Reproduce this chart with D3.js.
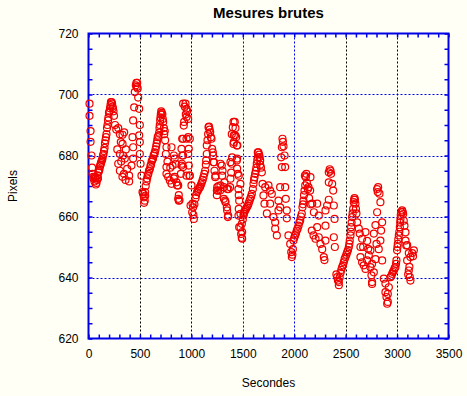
<!DOCTYPE html>
<html>
<head>
<meta charset="utf-8">
<script src="https://cdn.jsdelivr.net/npm/d3@7/dist/d3.min.js"></script>
<style>
  body { margin: 0; background: #fffff6; }
</style>
</head>
<body>
<div id="chart"></div>
<script>
// axis labels
var xTicks = [0, 500, 1000, 1500, 2000, 2500, 3000, 3500];
var yTicks = [620, 640, 660, 680, 700, 720];
// vertical grid lines drawn in black (the others are blue)
var blackGridX = [500, 1000, 2500, 3000];

// raw measures [seconds, pixels]
var cycle0 = [[10,697],[10,693],[20,688],[20,684.5],[29,680],[35,676],[39,674],[45,673],[49,672.5],[58,671.5],[62,673],[68,672.5],[72,670.5],[78,671],[82,672],[88,673.5],[92,672.5],[97,674.5]];
var cycle1 = [[102,675],[107,675.5],[112,676.5],[117,677],[121,677.5],[126,678],[131,678.5],[136,679],[141,680],[146,680.5],[151,681.5],[156,682.5],[160,684],[165,685],[170,686],[175,687],[180,689],[185,690],[190,691.5],[194,692.5],[199,694],[204,694.5],[209,695.5],[214,696.5],[218,697.5],[224,697.5],[229,697],[233,696],[238,695.5],[243,694.5],[248,693],
  [258,690],[270,688.5],[289,689],[305,687],[331,686.8],[347,687.6],[314,684.4],[331,683.8],[305,680.5],[337,680],[289,677.3],[305,675],[353,679],[363,682],[376,675.6],[395,673.4],[395,671.5],[418,676.7],[318,678],[280,682],[345,674],[360,672],[330,673]];
var cycle2 = [[428,686],[434,679],[434,682.7],[434,691.5],[444,695.8],[450,700.8],[460,703],[466,703.8],[473,703.8],[470,702.5],[478,702],[483,699],[493,695.3],[499,690],[493,686.6],[499,684.4],[499,680.5],[506,677.3],[515,673.4],[525,668],[531,667.4],[538,666.3],[547,665.2],[551,666.8],[540,664.5]];
var cycle3 = [[550,668],[556,670],[564,671.5],[570,672.5],[576,673.5],[582,674],[588,675],[596,675.5],[602,676.5],[608,677],[614,678],[620,678.5],[627,679],[633,680],[640,680.5],[645,681],[652,682],[658,683],[663,684],[668,685],[673,686],[680,686.5],[687,687.5],[690,689],[693,690],[697,691.5],[700,692.5],[703,693.5],[707,694.5],[712,694],[718,693.5],[722,692],
  [726,691],[733,689],[741,688],[736,687],[745,685],[758,682.7],[752,680.5],[807,682.7],[830,680],[838,679],[849,677.3],[817,676.7],[758,676.2],[758,674],[774,673],[791,671.8],[807,670.7],[830,672.5],[856,671.2],[872,670.2],[872,665.8],[878,665.2],[838,673],[862,670.2],[878,667],[885,665.3],[768,678],[795,676]];
var cycle4 = [[898,674],[904,676.7],[904,682.2],[911,680],[911,685.5],[920,680],[920,685.5],[920,697],[926,689.8],[930,691],[936,696],[943,697],[946,693.5],[953,695.3],[953,692.6],[959,694.5],[969,692],[969,686],[975,682.2],[975,676.7],[982,673.4],[985,685.5],[953,685.5],[953,673.4],[985,673.4],[969,680.5],[992,663.6],[1001,670.2],[1008,661.4],[1011,664.2],[1017,663],[1024,659.2],[1020,660.5],[920,676.2],[908,677.3]];
var cycle5 = [[1030,664],[1040,666],[1046,667],[1056,668],[1064,668.5],[1072,669],[1080,669.5],[1086,669.8],[1094,670.5],[1102,671.2],[1110,672],[1118,672.9],[1126,674],[1134,675],[1141,677],[1144,678.4],[1150,680.5],[1150,683.3],[1157,685],[1163,687],[1167,689.3],[1172,689.5],[1178,688.5],[1183,687.6],[1190,686],[1196,685.5],[1202,682.2],[1209,681],[1212,680],[1215,677.8],[1220,677.8],[1225,675],[1232,672.9],[1235,673.4],[1248,668.5],[1251,669.6],[1248,667],[1261,668.5],[1264,670],[1280,668.5]];
var cycle6 = [[1283,677.3],[1283,670.2],[1296,676.7],[1299,673.4],[1303,675],[1316,669.6],[1316,665.8],[1322,671.2],[1328,665.2],[1332,664.7],[1345,663],[1348,669],[1348,662],[1355,659.8],[1358,660.3],[1361,669],[1377,669.6],[1380,672.4],[1380,677.8],[1387,674.4],[1393,677.3],[1393,687],[1396,679.4],[1403,689.3],[1410,691],[1410,683.8],[1413,684.4],[1413,686.6],[1422,691],[1426,686.6],[1429,689],[1435,686],[1442,683.3],[1447,683.3],[1442,678.4],[1445,679],[1445,675.7],[1452,674],[1461,673.4],[1458,669],[1461,667],[1465,665.2],[1461,662.5],[1458,660.3],[1478,660.9],[1465,656.5],[1478,656.5],[1484,654.3],[1494,654.9],[1490,653],[1494,652.7],[1477,670.7]];
var cycle7 = [[1491,657.6],[1500,659],[1507,660.3],[1510,660.9],[1515,661.5],[1523,662],[1531,662.5],[1540,663],[1548,663.5],[1556,664.2],[1564,665],[1572,665.8],[1580,666.5],[1588,667.4],[1598,669],[1604,670.7],[1609,672],[1614,672.9],[1620,674],[1627,675],[1632,676],[1636,677.3],[1641,678.5],[1646,679.4],[1646,681],[1652,681],[1659,680.3],[1664,679.5],[1669,678.4],[1669,677],[1677,676],[1685,674.5],[1692,670.7],[1701,666.9],[1711,664.2],[1718,669.6],[1734,661],[1750,670.2],[1766,668.5],[1766,664.2],[1782,667.4],[1798,659.8],[1815,658.1],[1815,656],[1831,653.8]];
var cycle8 = [[1847,662],[1847,665.2],[1863,663],[1863,669.6],[1873,679.4],[1880,676.2],[1880,682.7],[1886,685.5],[1890,684.5],[1896,683],[1906,680],[1912,676.2],[1912,669.6],[1918,665.8],[1928,662],[1928,659.4],[1944,653.8],[1961,651],[1971,648.3],[1977,646.7],[1987,649.3],[1982,647.5]];
var cycle9 = [[1993,652.1],[2000,653],[2009,653.8],[2017,654.5],[2025,655.4],[2033,656],[2042,657],[2050,658],[2058,658.7],[2066,660],[2074,660.9],[2080,663],[2085,664],[2090,665.2],[2095,667],[2100,668.5],[2104,673.4],[2107,670.2],[2113,672.9],[2118,674],[2123,671],[2133,669],[2139,669.6],[2145,666],[2155,668.5],[2160,664],[2158,672.9],[2171,655.4],[2175,664.2],[2188,653.8],[2191,661.4]];
var cycle10 = [[2207,652.7],[2223,664.2],[2223,656.5],[2239,660.3],[2239,653.2],[2255,651],[2272,649.3],[2288,646.7],[2294,645.7],[2304,652.1],[2304,657],[2304,662],[2320,663.6],[2336,665.5],[2336,671.2],[2336,674.5],[2345,675.5],[2353,675],[2358,674],[2369,670.7],[2379,668.5],[2385,663.6],[2392,659.2],[2385,653.2],[2395,650]];
var cycle11 = [[2410,641],[2418,640.1],[2425,639],[2434,638.5],[2434,637.5],[2442,640],[2450,641.5],[2458,642.5],[2466,643.4],[2474,644],[2482,645],[2490,646],[2498,646.7],[2507,647.5],[2515,648.3],[2523,649],[2531,650],[2536,651],[2540,652.1],[2547,653.8],[2550,655],[2553,656.5],[2558,658],[2563,659.8],[2568,661],[2573,662.5],[2579,664.7],[2583,665.5],[2586,666],[2590,665.5],[2595,664.2],[2600,662.5],[2605,661],[2612,658.1],[2628,656],[2637,654.4],[2644,646.7],[2644,650],[2660,652.7],[2660,645],[2670,650],[2676,644],[2693,642.8],[2693,654.9]];
var cycle12 = [[2709,645.6],[2709,652],[2719,649.4],[2725,647.3],[2741,648.9],[2741,643.4],[2751,640.7],[2757,644.5],[2757,638.5],[2757,637.9],[2774,641.7],[2774,654.4],[2790,646],[2790,657.2],[2800,651],[2806,661.4],[2806,669],[2812,668],[2816,669.6],[2822,649.3],[2829,667.5],[2838,664.7],[2838,652.1],[2845,655.4],[2855,658.1],[2855,645.6],[2871,639.6],[2887,638],[2887,635.2],[2897,633.6],[2904,631.4],[2910,632],[2910,634.6],[2920,636.8]];
var cycle13 = [[2936,640.1],[2944,640.5],[2952,641.2],[2960,641.8],[2968,642.3],[2976,643],[2984,643.4],[2990,644.5],[2994,645.6],[3000,648.9],[3004,650],[3007,651],[3012,652.5],[3017,653.8],[3022,655],[3027,656.5],[3030,658],[3033,659.2],[3036,660.5],[3040,661.4],[3049,662],[3054,661.5],[3059,660.8],[3065,658.6],[3072,657],[3082,654.8],[3082,652.1],[3089,650.5],[3098,650.6],[3098,645.6],[3108,641],[3114,642.3],[3114,648],[3120,643.5],[3124,640.1],[3130,639],[3130,646.7],[3147,648],[3155,647],[3163,648.9]];

var points = [].concat(cycle0, cycle1, cycle2, cycle3, cycle4, cycle5, cycle6,
    cycle7, cycle8, cycle9, cycle10, cycle11, cycle12, cycle13);

var width = 467,
    height = 396;

// plot frame (note: "top" is reserved on window, so use other names)
var plotLeft = 88.5, plotRight = 448.5, plotTop = 33.5, plotBottom = 338.5;
var blue = "#0000e6";
var font = "'Liberation Sans', Arial, sans-serif";

var x = d3.scaleLinear().domain([0, 3500]).range([plotLeft, plotRight]);
var y = d3.scaleLinear().domain([620, 720]).range([plotBottom, plotTop]);

var svg = d3.select("#chart").append("svg")
    .attr("width", width)
    .attr("height", height)
    .style("display", "block");

svg.append("rect")
    .attr("width", width)
    .attr("height", height)
    .attr("fill", "#fffff6");

// grid
svg.append("g").selectAll("line")
    .data(yTicks.slice(1, -1))
    .enter().append("line")
    .attr("x1", plotLeft).attr("x2", plotRight)
    .attr("y1", d => Math.round(y(d)) + 0.5).attr("y2", d => Math.round(y(d)) + 0.5)
    .attr("stroke", blue)
    .attr("stroke-dasharray", "2,2");

svg.append("g").selectAll("line")
    .data(xTicks.slice(1, -1))
    .enter().append("line")
    .attr("x1", d => Math.round(x(d)) + 0.5).attr("x2", d => Math.round(x(d)) + 0.5)
    .attr("y1", plotTop).attr("y2", plotBottom)
    .attr("stroke", d => blackGridX.indexOf(d) >= 0 ? "#000" : blue)
    .attr("stroke-dasharray", "2,2");

// minor ticks on the four sides, pointing inward
function minor(g) {
    g.select(".domain").remove();
    g.selectAll("line").attr("stroke", blue).attr("stroke-width", 1.5);
}
svg.append("g").attr("transform", "translate(0," + plotBottom + ")")
    .call(d3.axisBottom(x).ticks(35).tickSize(-4).tickFormat("")).call(minor);
svg.append("g").attr("transform", "translate(0," + plotTop + ")")
    .call(d3.axisTop(x).ticks(35).tickSize(-4).tickFormat("")).call(minor);
svg.append("g").attr("transform", "translate(" + plotLeft + ",0)")
    .call(d3.axisLeft(y).ticks(20).tickSize(-4).tickFormat("")).call(minor);
svg.append("g").attr("transform", "translate(" + plotRight + ",0)")
    .call(d3.axisRight(y).ticks(20).tickSize(-4).tickFormat("")).call(minor);

// tick labels
function labels(g) {
    g.select(".domain").remove();
    g.selectAll("line").remove();
    g.selectAll("text").attr("fill", "#000")
        .attr("font-family", font).attr("font-size", "12px");
}
svg.append("g").attr("transform", "translate(0," + plotBottom + ")")
    .call(d3.axisBottom(x).tickValues(xTicks).tickSize(0).tickPadding(11).tickFormat(d3.format("d")))
    .call(labels);
svg.append("g").attr("transform", "translate(" + plotLeft + ",0)")
    .call(d3.axisLeft(y).tickValues(yTicks).tickSize(0).tickPadding(10).tickFormat(d3.format("d")))
    .call(labels);

// frame
svg.append("rect")
    .attr("x", plotLeft).attr("y", plotTop)
    .attr("width", plotRight - plotLeft).attr("height", plotBottom - plotTop)
    .attr("fill", "none")
    .attr("stroke", blue)
    .attr("stroke-width", 2);

// points
svg.append("g").selectAll("circle")
    .data(points)
    .enter().append("circle")
    .attr("cx", d => x(d[0]))
    .attr("cy", d => y(d[1]))
    .attr("r", 3.5)
    .attr("fill", "none")
    .attr("stroke", "#f00000")
    .attr("stroke-width", 1.2);

// titles
svg.append("text")
    .text("Mesures brutes")
    .attr("x", (plotLeft + plotRight) / 2)
    .attr("y", 18)
    .attr("text-anchor", "middle")
    .attr("font-family", font)
    .attr("font-weight", "bold")
    .attr("font-size", "15px");

svg.append("text")
    .text("Secondes")
    .attr("x", (plotLeft + plotRight) / 2)
    .attr("y", 387)
    .attr("text-anchor", "middle")
    .attr("font-family", font)
    .attr("font-size", "12px");

svg.append("text")
    .text("Pixels")
    .attr("transform", "translate(16.5," + ((plotTop + plotBottom) / 2) + ") rotate(-90)")
    .attr("text-anchor", "middle")
    .attr("font-family", font)
    .attr("font-size", "12px");
</script>
</body>
</html>
